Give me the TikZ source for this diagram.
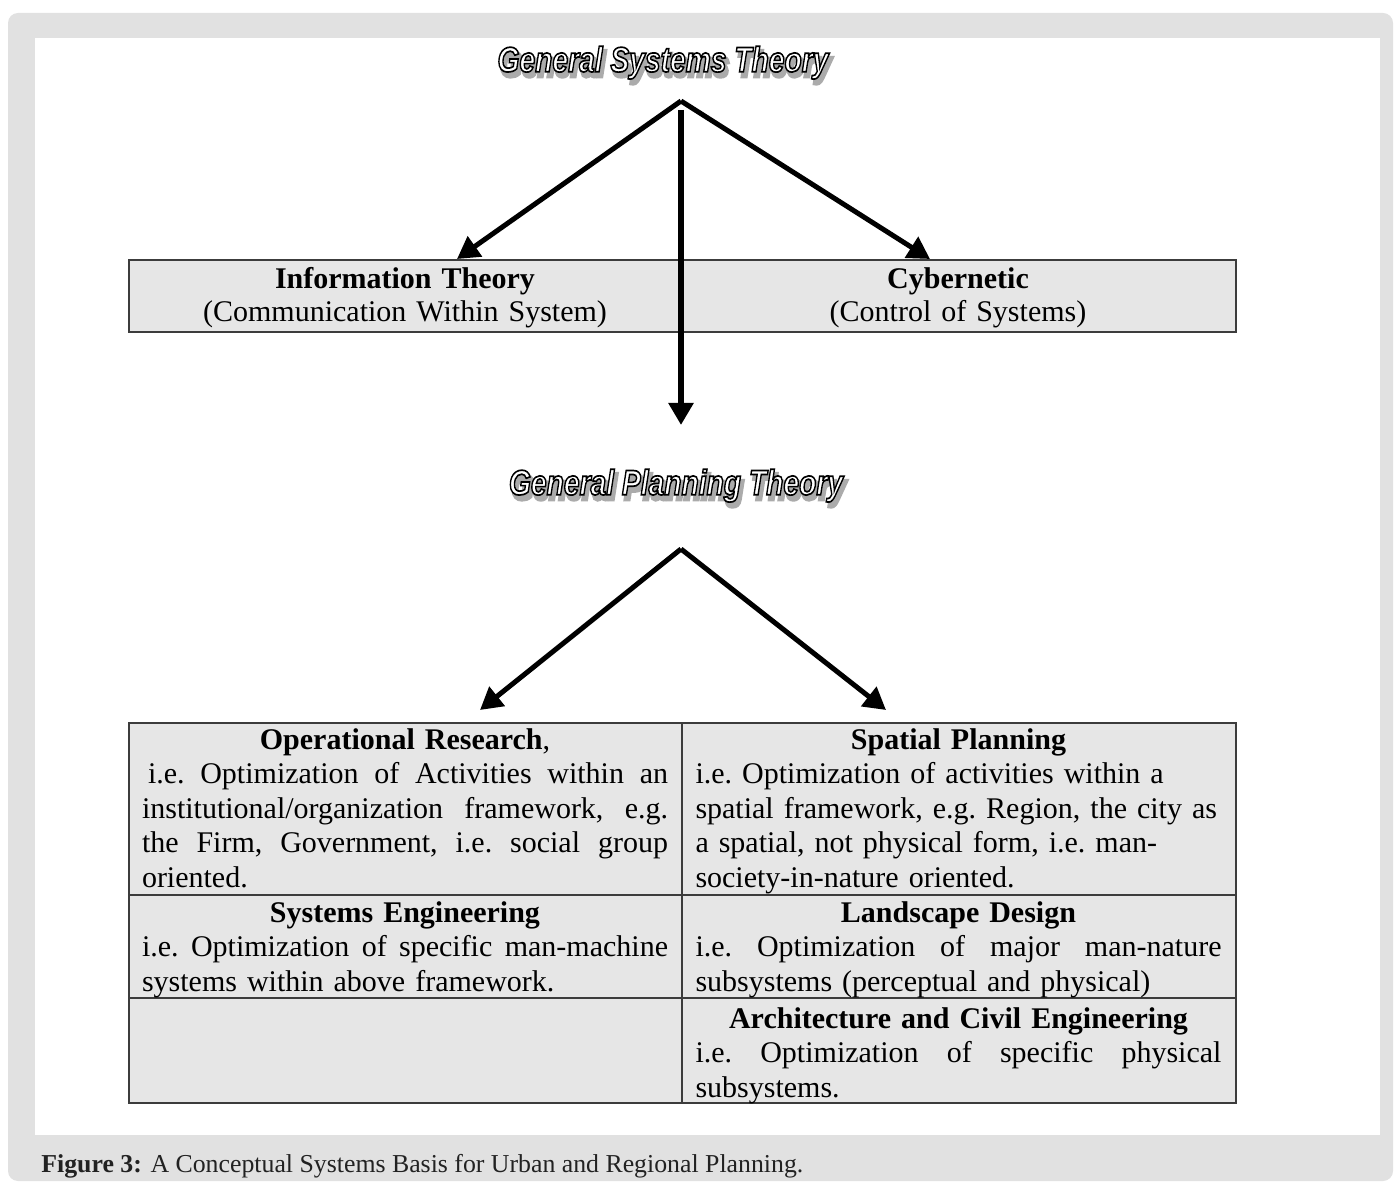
\documentclass[tikz,border=0pt]{standalone}
\usepackage{fontspec}
\setmainfont{Liberation Serif}
\newfontfamily\wordartfont{Liberation Sans}
\usetikzlibrary{arrows.meta}

\definecolor{framegray}{HTML}{E1E1E1}
\definecolor{cellgray}{HTML}{E6E6E6}
\definecolor{rulegray}{HTML}{3C3C3C}
\definecolor{captionink}{HTML}{222222}
\definecolor{shadowgray}{HTML}{ABABAB}

% cell text widths (1 unit = 0.5pt)
\newlength{\cellw}\setlength{\cellw}{263pt}
% a fully justified line: every interword space stretches equally
\newcommand{\jline}[1]{{\spaceskip=0.25em plus 1fil\relax\makebox[\cellw][s]{#1}}}
\newcommand{\lline}[1]{\makebox[\cellw][l]{#1}}

% outlined, shadowed headline lettering (PDF text render mode 2: fill + stroke)
\newcommand{\artfont}{\wordartfont\bfseries\itshape\fontsize{16.8}{17}\selectfont}
\newcommand{\artfront}[1]{{\color{white}%
  \special{pdf:literal direct 2 Tr 0.8 w 0 0 0 RG}#1\special{pdf:literal direct 0 Tr}}}
\newcommand{\artshadow}[1]{{\color{shadowgray}%
  \special{pdf:literal direct 2 Tr 1.8 w 0.67 0.67 0.67 RG}#1\special{pdf:literal direct 0 Tr}}}
\newcommand{\arttitle}[1]{\scalebox{0.84}[1.05]{\artfont
  \rlap{\hspace{1.6pt}\raisebox{-2.2pt}{\artshadow{#1}}}\artfront{#1}}}

\tikzset{
  flow/.style={line width=2.5pt, -{Triangle[length=11pt,width=12pt]}},
  mainflow/.style={line width=3.2pt, -{Triangle[length=11pt,width=12pt]}},
  panel/.style={fill=cellgray, draw=rulegray, line width=1.2pt},
  rulel/.style={draw=rulegray, line width=1.2pt},
  celltext/.style={inner sep=0pt, align=center, text width=263pt,
    font=\fontsize{15}{17.25}\selectfont\frenchspacing},
  boxtext/.style={inner sep=0pt, align=center, text width=263pt,
    font=\fontsize{15}{16.5}\selectfont\frenchspacing},
  titlenode/.style={inner sep=0pt},
}

\begin{document}
\begin{tikzpicture}[x=0.5pt,y=-0.5pt]
\useasboundingbox (0,0) rectangle (1394,1182);

% page frame and white drawing area
\fill[white] (0,0) rectangle (1394,1182);
\fill[framegray, rounded corners=5pt] (8,13) rectangle (1393,1181);
\fill[white] (35,38) rectangle (1380,1135);

% ---------- General Systems Theory ----------
\node[titlenode] (gst) at (663,65) {\arttitle{General Systems Theory}};
\coordinate (gst-apex) at (681,101);
\coordinate (gst-stem) at (681,110);

% top panel
\node[panel, anchor=north west, minimum width=553.5pt, minimum height=36pt, inner sep=0pt]
  (toppanel) at (128,259) {};
\node[boxtext, anchor=base] (info) at (405,289)
  {\textbf{Information Theory}\\(Communication Within System)};
\node[boxtext, anchor=base] (cyber) at (958,289)
  {\textbf{Cybernetic}\\(Control of Systems)};

\coordinate (info-in) at (457,259);
\coordinate (cyber-in) at (930,259);

% ---------- General Planning Theory ----------
\node[titlenode] (gpt) at (676,488) {\arttitle{General Planning Theory}};
\coordinate (gpt-top) at (681,425);
\coordinate (gpt-apex) at (681,549);

% arrows from General Systems Theory
\draw[flow] (gst-apex) -- (info-in);
\draw[flow] (gst-apex) -- (cyber-in);
\draw[mainflow] (gst-stem) -- (gpt-top);

% ---------- lower table ----------
\node[panel, anchor=north west, minimum width=553.5pt, minimum height=190pt, inner sep=0pt]
  (table) at (128,722) {};
\draw[rulel] (682,722) -- (682,1102);
\draw[rulel] (128,895) -- (1235,895);
\draw[rulel] (128,998) -- (1235,998);

\coordinate (opres-in) at (480,710);
\coordinate (spatial-in) at (886,710);
\draw[flow] (gpt-apex) -- (opres-in);
\draw[flow] (gpt-apex) -- (spatial-in);

% row 1
\node[celltext, anchor=base] (opres) at (405,749) {%
  \textbf{Operational Research},\\
  \jline{\hspace{3pt}i.e. Optimization of Activities within an}\\
  \jline{institutional/organization framework, e.g.}\\
  \jline{the Firm, Government, i.e. social group}\\
  \lline{oriented.}};
\node[celltext, anchor=base] (spatial) at (958.5,749) {%
  \textbf{Spatial Planning}\\
  \lline{i.e. Optimization of activities within a}\\
  \lline{spatial framework, e.g. Region, the city as}\\
  \lline{a spatial, not physical form, i.e. man-}\\
  \lline{society-in-nature oriented.}};

% row 2
\node[celltext, anchor=base] (syseng) at (405,922) {%
  \textbf{Systems Engineering}\\
  \jline{i.e. Optimization of specific man-machine}\\
  \lline{systems within above framework.}};
\node[celltext, anchor=base] (landscape) at (958.5,922) {%
  \textbf{Landscape Design}\\
  \jline{i.e. Optimization of major man-nature}\\
  \lline{subsystems (perceptual and physical)}};

% row 3
\node[celltext, anchor=base] (archi) at (958.5,1028) {%
  \textbf{Architecture and Civil Engineering}\\
  \jline{i.e. Optimization of specific physical}\\
  \lline{subsystems.}};

% caption
\node[anchor=base west, inner sep=0pt, text=captionink,
  font=\fontsize{12.9}{14}\selectfont] (caption) at (41,1172)
  {\textbf{Figure 3:} A Conceptual Systems Basis for Urban and Regional Planning.};
\end{tikzpicture}
\end{document}
